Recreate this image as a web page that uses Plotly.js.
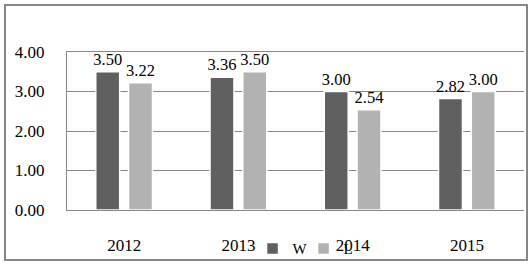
<!DOCTYPE html>
<html><head><meta charset="utf-8">
<script src="https://cdn.plot.ly/plotly-3.0.1.min.js"></script>
<style>
html,body{margin:0;padding:0;background:#fff;}
#wrap{position:relative;width:532px;height:266px;}
#chart{position:absolute;left:0;top:0;width:532px;height:266px;}
#frame{position:absolute;left:4px;top:4px;width:520px;height:253px;border:2px solid #878787;pointer-events:none;}
</style></head>
<body>
<div id="wrap"><div id="chart"></div><div id="frame"></div></div>
<script>
const categories = ['2012', '2013', '2014', '2015'];
const seriesW = [3.50, 3.36, 3.00, 2.82];
const seriesL = [3.22, 3.50, 2.54, 3.00];
const seriesNames = ['W', 'L'];
const yTicks = [0, 1, 2, 3, 4];
const yTickLabels = ['0.00', '1.00', '2.00', '3.00', '4.00'];

const fam = "'Liberation Serif', 'DejaVu Serif', serif";
const font = {family: fam, size: 17, color: '#000'};
const labelFont = {family: fam, size: 16.5, color: '#000'};
const legFont = {family: fam, size: 15, color: '#000'};

function barTrace(name, vals, color) {
  return {
    type: 'bar', name: name, x: categories, y: vals,
    marker: {color: color, line: {color: '#ffffff', width: 1.5}},
    text: vals.map(v => v.toFixed(2)), textposition: 'outside',
    constraintext: 'none',
    textfont: labelFont, cliponaxis: false, hoverinfo: 'none'
  };
}

const data = [
  barTrace(seriesNames[0], seriesW, '#606060'),
  barTrace(seriesNames[1], seriesL, '#b2b2b2')
];

const layout = {
  width: 532, height: 266,
  margin: {l: 67, r: 8, t: 52, b: 56, autoexpand: false},
  paper_bgcolor: '#fff', plot_bgcolor: '#fff',
  font: font,
  bargap: 0.426, bargroupgap: 0.27,
  showlegend: true,
  legend: {orientation: 'h', x: 0.406, y: -0.245, xanchor: 'left', yanchor: 'middle',
           font: legFont, bgcolor: 'rgba(0,0,0,0)', itemwidth: 30, entrywidth: 6,
           traceorder: 'normal'},
  xaxis: {
    type: 'category', showgrid: false, zeroline: false,
    showline: true, linecolor: '#878787', linewidth: 1, mirror: true,
    ticks: '', ticklabelstandoff: 20, tickfont: font, fixedrange: true
  },
  yaxis: {
    range: [0, 4], tickvals: yTicks, ticktext: yTickLabels,
    showgrid: true, gridcolor: '#878787', gridwidth: 1,
    zeroline: false, showline: true, linecolor: '#878787', linewidth: 1,
    ticks: '', ticklabelstandoff: 18, tickfont: font, fixedrange: true
  }
};

Plotly.newPlot('chart', data, layout, {displayModeBar: false, staticPlot: true});
</script>
</body></html>
